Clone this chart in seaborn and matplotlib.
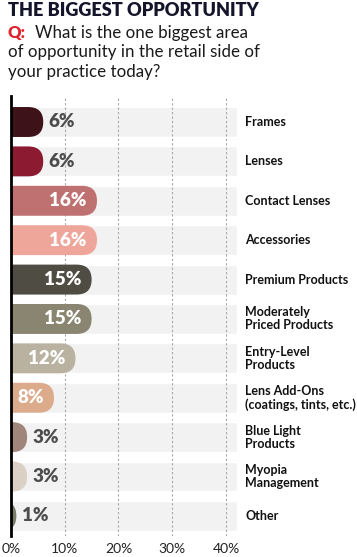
import matplotlib
matplotlib.use("Agg")
import matplotlib.pyplot as plt
import seaborn as sns
import pandas as pd
from matplotlib.patches import FancyBboxPatch

categories = ["Frames", "Lenses", "Contact Lenses", "Accessories", "Premium Products",
              "Moderately\nPriced Products", "Entry-Level\nProducts",
              "Lens Add-Ons\n(coatings, tints, etc.)", "Blue Light\nProducts",
              "Myopia\nManagement", "Other"]
values = [6, 6, 16, 16, 15, 15, 12, 8, 3, 3, 1]
labels = ["6%", "6%", "16%", "16%", "15%", "15%", "12%", "8%", "3%", "3%", "1%"]
colors = ["#3e1219", "#8c1a30", "#bf7171", "#eea69b", "#4f4c43", "#8a8571",
          "#b9b2a1", "#dcab8c", "#9f857a", "#dad0c5", "#7b7b69"]
ticks = [0, 10, 20, 30, 40]
tick_labels = ["0%", "10%", "20%", "30%", "40%"]
band_max = 42

sns.set_theme(style="white")
plt.rcParams['font.family'] = ['Lato', 'DejaVu Sans']

W, H = 357, 557
fig = plt.figure(figsize=(W / 100, H / 100), dpi=100)
ax = fig.add_axes([11 / W, 1 - 536 / H, (236.7 - 11) / W, (536 - 96) / H])

df = pd.DataFrame({"cat": categories, "val": values, "band": [band_max] * len(values)})
BAR_H = 0.76

sns.barplot(data=df, y="cat", x="band", color="#f2f2f2", width=BAR_H, ax=ax,
            orient="h", saturation=1, zorder=0.5)
n_band = len(ax.patches)
sns.barplot(data=df, y="cat", x="val", hue="cat", palette=colors, width=BAR_H, ax=ax,
            orient="h", saturation=1, legend=False, zorder=2)

ax.set_xlim(0, band_max)
ax.set_ylim(10.51, -0.66)

# round the right ends of the value bars
fig.canvas.draw()
p0 = ax.transData.transform((0, 0))
p1 = ax.transData.transform((1, 1))
px_x = abs(p1[0] - p0[0])
px_y = abs(p1[1] - p0[1])
bars = list(ax.patches[n_band:])
for b, col in zip(bars, colors):
    x, y, w, h = b.get_x(), b.get_y(), b.get_width(), b.get_height()
    b.remove()
    ry = h / 2
    rx = ry * px_y / px_x
    ext = 5
    fp = FancyBboxPatch((x - ext, y), w + ext, h,
                        boxstyle=f"round,pad=0,rounding_size={rx}",
                        mutation_aspect=ry / rx, facecolor=col, edgecolor="none",
                        zorder=2)
    ax.add_patch(fp)

ax.set_axisbelow("line")
ax.xaxis.grid(True, color="#a8a8a8", linestyle=(0, (2, 2)), linewidth=0.8)
ax.yaxis.grid(False)

for i, (v, lab) in enumerate(zip(values, labels)):
    if v >= 8:
        ax.text(v - 1.9, i, lab, ha="right", va="center", color="white",
                fontsize=13.5, fontweight="heavy", zorder=3)
    else:
        ax.text(v + 1.0, i, lab, ha="left", va="center", color="#4d4d4d",
                fontsize=13.5, fontweight="heavy", zorder=3)
    ax.text(43.6, i, categories[i], ha="left", va="center", color="#111111",
            fontsize=9, fontweight="bold", linespacing=1.1, clip_on=False)

ax.set_xticks(ticks)
ax.set_xticklabels(tick_labels, fontsize=10, color="#222222")
ax.set_yticks([])
ax.set_xlabel("")
ax.set_ylabel("")
ax.tick_params(axis="x", length=0, pad=5)
for s in ["top", "right", "bottom"]:
    ax.spines[s].set_visible(False)
ax.spines["left"].set_color("black")
ax.spines["left"].set_linewidth(2)

fig.text(8 / W, 1 - 16 / H, "THE BIGGEST OPPORTUNITY", fontsize=13.1, fontweight="heavy",
         color="#14142b", ha="left", va="baseline")
fig.text(8 / W, 1 - 38 / H, "Q:", fontsize=12, fontweight="heavy",
         color="#e0222c", ha="left", va="baseline")
fig.text(35 / W, 1 - 38 / H, "What is the one biggest area", fontsize=12.2,
         color="#1a1a1a", ha="left", va="baseline")
fig.text(8 / W, 1 - 57.5 / H, "of opportunity in the retail side of", fontsize=12.2,
         color="#1a1a1a", ha="left", va="baseline")
fig.text(8 / W, 1 - 77 / H, "your practice today?", fontsize=12.2,
         color="#1a1a1a", ha="left", va="baseline")

fig.savefig("out.png", dpi=100)
